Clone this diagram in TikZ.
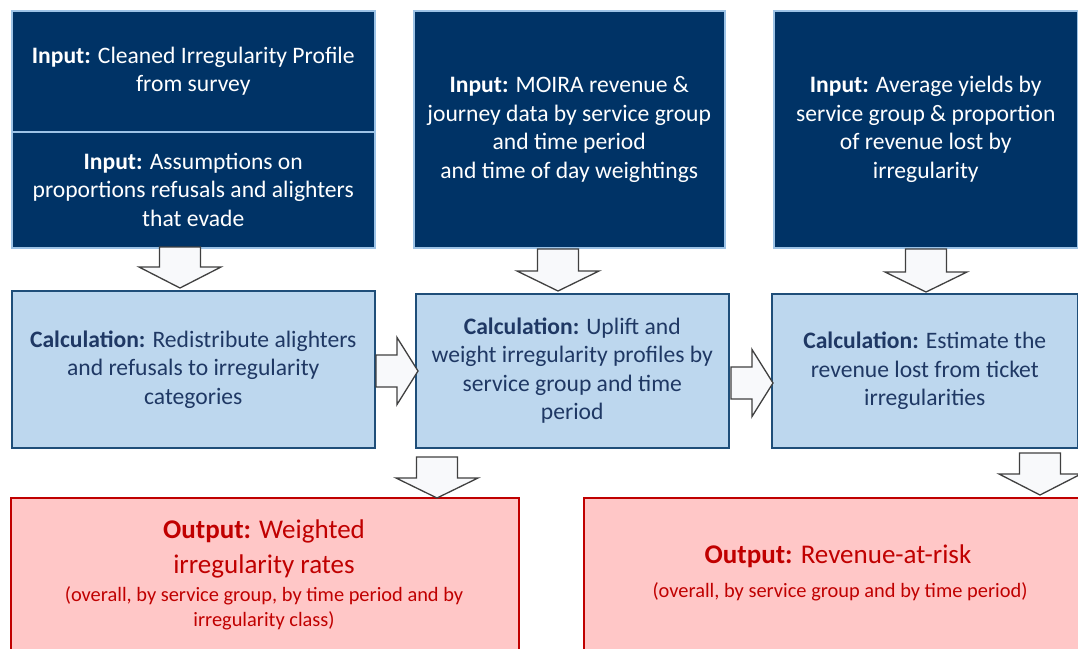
\documentclass[tikz,border=0pt]{standalone}
\usepackage{fontspec}
\setmainfont{Carlito}
\definecolor{navy}{HTML}{003366}
\definecolor{inborder}{HTML}{9DC3E6}
\definecolor{calcfill}{HTML}{BDD7EE}
\definecolor{calcborder}{HTML}{1F4E79}
\definecolor{calctext}{HTML}{1F3864}
\definecolor{outfill}{HTML}{FFC7C7}
\definecolor{outred}{HTML}{C00000}
\definecolor{arrowfill}{HTML}{F8F9FB}
\definecolor{arrowdraw}{HTML}{404040}
\newcommand\blkdown[4]{% center x, top y, head y, tip y
  \draw[blockarrow] ({#1-20.5},#2) -- ({#1+20.5},#2) -- ({#1+20.5},#3) -- ({#1+41},#3)
    -- (#1,#4) -- ({#1-41},#3) -- ({#1-20.5},#3) -- cycle;}
\newcommand\blkright[4]{% left x, head x, tip x, center y
  \draw[blockarrow] (#1,{#4-16}) -- (#2,{#4-16}) -- (#2,{#4-33.5}) -- (#3,#4)
    -- (#2,{#4+33.5}) -- (#2,{#4+16}) -- (#1,{#4+16}) -- cycle;}
\begin{document}
\begin{tikzpicture}[x=1pt,y=-1pt,
  inbox/.style={draw=inborder, fill=navy, line width=1.5pt, text=white,
    font=\fontsize{23.6}{28.5}\selectfont, align=center, inner sep=0pt, anchor=north west},
  calcbox/.style={draw=calcborder, fill=calcfill, line width=1.5pt, text=calctext,
    font=\fontsize{23.6}{28.5}\selectfont, align=center, inner sep=0pt, anchor=north west},
  outbox/.style={draw=outred, fill=outfill, line width=1.5pt, inner sep=0pt, anchor=north west},
  outtitle/.style={text=outred, font=\fontsize{27}{35}\selectfont, align=center, inner sep=0pt},
  outsub/.style={text=outred, font=\fontsize{20.4}{25}\selectfont, align=center, inner sep=0pt},
  blockarrow/.style={draw=arrowdraw, fill=arrowfill, line width=1.3pt, line join=miter}]
\clip (0,0) rectangle (1078,648);
\fill[white] (0,0) rectangle (1078,648);
% inputs
\node[inbox, minimum width=363pt, minimum height=121pt] (in1a) at (11,10)
  {\textbf{Input:} Cleaned Irregularity Profile\\from survey};
\node[inbox, minimum width=363pt, minimum height=116pt] (in1b) at (11,131)
  {\textbf{Input:} Assumptions on\\proportions refusals and alighters\\that evade};
\node[inbox, minimum width=311pt, minimum height=237pt] (in2) at (413,10)
  {\textbf{Input:} MOIRA revenue \&\\journey data by service group\\and time period\\and time of day weightings};
\node[inbox, minimum width=304pt, minimum height=237pt] (in3) at (773,10)
  {\textbf{Input:} Average yields by\\service group \& proportion\\of revenue lost by\\irregularity};
% calculations
\node[calcbox, minimum width=363pt, minimum height=157pt] (c1) at (11,290)
  {\textbf{Calculation:} Redistribute alighters\\and refusals to irregularity\\categories};
\node[calcbox, minimum width=313pt, minimum height=154pt] (c2) at (415,293)
  {\textbf{Calculation:} Uplift and\\weight irregularity profiles by\\service group and time\\period};
\node[calcbox, minimum width=306pt, minimum height=154pt] (c3) at (771,293)
  {\textbf{Calculation:} Estimate the\\revenue lost from ticket\\irregularities};
% outputs
\node[outbox, minimum width=508pt, minimum height=170pt] (o1) at (10,497) {};
\node[outtitle] (o1t) at (264,549) {\textbf{Output:} Weighted\\irregularity rates};
\node[outsub] (o1s) at (264,608) {(overall, by service group, by time period and by\\irregularity class)};
\node[outbox, minimum width=514pt, minimum height=170pt] (o2) at (583,497) {};
\node[outtitle] (o2t) at (838,556) {\textbf{Output:} Revenue-at-risk};
\node[outsub] (o2s) at (840,592) {(overall, by service group and by time period)};
% block arrows
\blkdown{180}{247}{267}{288}
\blkdown{558}{249}{271}{291}
\blkdown{926}{249}{272}{292}
\blkdown{437}{457}{478}{498}
\blkdown{1040}{453}{474}{495}
\blkright{376}{397}{418}{371}
\blkright{731}{752}{773}{383}
\end{tikzpicture}
\end{document}
